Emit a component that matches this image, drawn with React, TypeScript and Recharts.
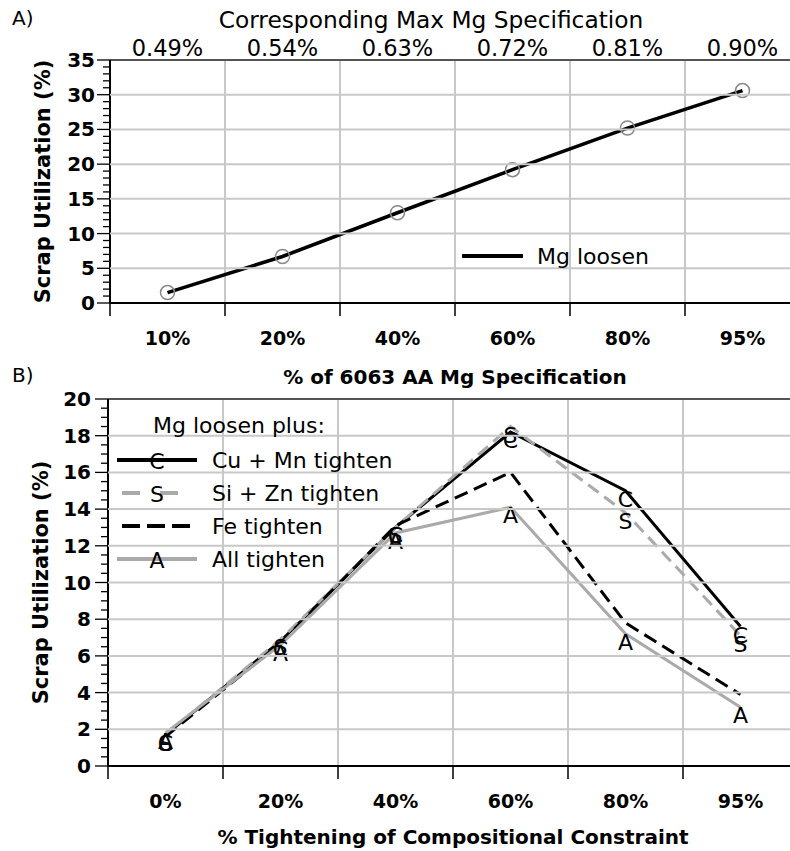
import React from "react";
import { Legend, Line, LineChart, ReferenceLine, XAxis, YAxis } from "recharts";

const FONT = "'DejaVu Sans', sans-serif";

// categories and tick labels
const specLabels = ["10%", "20%", "40%", "60%", "80%", "95%"];
const maxMgLabels = ["0.49%", "0.54%", "0.63%", "0.72%", "0.81%", "0.90%"];
const tightenLabels = ["0%", "20%", "40%", "60%", "80%", "95%"];

// panel A
const mgLoosen = [1.5, 6.7, 13.0, 19.2, 25.2, 30.6];

// panel B
const cuMnTighten = [1.7, 6.8, 13.0, 18.2, 15.0, 7.6];
const siZnTighten = [1.7, 6.9, 13.0, 18.5, 13.8, 7.1];
const feTighten = [1.6, 6.7, 13.1, 16.0, 7.8, 3.9];
const allTighten = [1.8, 6.6, 12.7, 14.1, 7.2, 3.2];

const topYMajor = [0, 5, 10, 15, 20, 25, 30, 35];
const bottomYMajor = [0, 2, 4, 6, 8, 10, 12, 14, 16, 18, 20];

const GRAY = "#aaaaaa";
const GRID = "#c8c8c8";

const CHART_W = 810;
const TOP_MARGIN_R = 10;
const BOT_MARGIN_R = 12;
const TOP_Y_W = 110;
const BOT_Y_W = 108;

const seriesB = [
  { key: "cu", name: "Cu + Mn tighten", color: "#000", dash: undefined, legendDash: undefined, glyph: "C" },
  { key: "si", name: "Si + Zn tighten", color: GRAY, dash: "13 7", legendDash: "18 20", glyph: "S" },
  { key: "fe", name: "Fe tighten", color: "#000", dash: "14 7", legendDash: "18 7", glyph: "" },
  { key: "all", name: "All tighten", color: GRAY, dash: undefined, legendDash: undefined, glyph: "A" },
];

const nCat = specLabels.length;
const xBounds = Array.from({ length: nCat + 1 }, (_, i) => i);
const xCenters = specLabels.map((_, i) => i + 0.5);
const xInner = xBounds.slice(1, -1);
const xAll = [...xBounds, ...xCenters].sort((a, b) => a - b);

function withMinor(max: number, step: number) {
  const out: number[] = [];
  for (let v = 0; v <= max + 1e-9; v += step) out.push(Math.round(v * 100) / 100);
  return out;
}

const topData = specLabels.map((c, i) => ({ x: i + 0.5, mg: mgLoosen[i] }));
const bottomData = tightenLabels.map((c, i) => ({
  x: i + 0.5,
  cu: cuMnTighten[i],
  si: siZnTighten[i],
  fe: feTighten[i],
  all: allTighten[i],
}));

// y tick: outward major/minor tick, label, and the horizontal grid line across the plot
const yTick = (major: number[], labelGap: number, plotW: number) => (p: any) => {
  const { x, y, payload } = p;
  const v = payload.value;
  const isMajor = major.some((m) => Math.abs(m - v) < 1e-6);
  const isEdge = v === major[0] || v === major[major.length - 1];
  return (
    <g>
      {isMajor && !isEdge && <line x1={x} x2={x + plotW} y1={y} y2={y} stroke={GRID} strokeWidth={2} />}
      <line x1={x - (isMajor ? 13 : 7)} x2={x} y1={y} y2={y} stroke="#000" strokeWidth={1.3} />
      {isMajor && (
        <text x={x - labelGap} y={y + 7} textAnchor="end" fontFamily={FONT} fontWeight="bold" fontSize={20} fill="#000">
          {v}
        </text>
      )}
    </g>
  );
};

const catTick = (labels: string[]) => (p: any) => {
  const { x, y, payload } = p;
  const v = payload.value;
  if (Number.isInteger(v)) {
    return <line x1={x} x2={x} y1={y} y2={y + 13} stroke="#000" strokeWidth={1.5} />;
  }
  return (
    <text x={x} y={y + 42} textAnchor="middle" fontFamily={FONT} fontWeight="bold" fontSize={19} fill="#000">
      {labels[Math.floor(v)]}
    </text>
  );
};

const topTick = (p: any) => {
  const { x, y, payload } = p;
  return (
    <text x={x} y={y - 4} textAnchor="middle" fontFamily={FONT} fontSize={22.5} fill="#000">
      {maxMgLabels[Math.floor(payload.value)]}
    </text>
  );
};

const circleDot = (p: any) => (
  <circle key={`c-${p.index}`} cx={p.cx} cy={p.cy} r={7} fill="none" stroke="#888" strokeWidth={1.5} />
);

const glyphDot = (ch: string) => (p: any) =>
  ch ? (
    <text key={`${ch}-${p.index}`} x={p.cx} y={p.cy + 16} textAnchor="middle" fontFamily={FONT} fontSize={22} fill="#000">
      {ch}
    </text>
  ) : (
    <g key={`n-${p.index}`} />
  );

const yTitle = {
  value: "Scrap Utilization (%)",
  angle: -90,
  position: "insideLeft" as const,
  offset: 43,
  style: { textAnchor: "middle" },
  fontFamily: FONT,
  fontWeight: "bold",
  fontSize: 21,
  fill: "#000",
};

function TopLegend({ payload }: any) {
  const name = payload && payload[0] ? payload[0].value : "Mg loosen";
  return (
    <svg width={220} height={36}>
      <line x1={7} x2={68} y1={18} y2={18} stroke="#000" strokeWidth={4} />
      <text x={82} y={26} fontFamily={FONT} fontSize={22} fill="#000">
        {name}
      </text>
    </svg>
  );
}

function BottomLegend() {
  return (
    <svg width={300} height={175}>
      <text x={43} y={23} fontFamily={FONT} fontSize={22} fill="#000">
        Mg loosen plus:
      </text>
      {seriesB.map((s, i) => {
        const cy = 50 + i * 33;
        return (
          <g key={s.key}>
            <line
              x1={s.legendDash ? 12 : 7}
              x2={87}
              y1={cy}
              y2={cy}
              stroke={s.color}
              strokeWidth={4}
              strokeDasharray={s.legendDash}
            />
            {s.glyph && (
              <text x={47} y={cy + 9} textAnchor="middle" fontFamily={FONT} fontSize={22} fill="#000">
                {s.glyph}
              </text>
            )}
            <text x={102} y={cy + 8} fontFamily={FONT} fontSize={22} fill="#000">
              {s.name}
            </text>
          </g>
        );
      })}
    </svg>
  );
}

const vGrid = () =>
  xInner.map((v) => <ReferenceLine key={`gx${v}`} xAxisId="bottom" x={v} stroke={GRID} strokeWidth={2} />);

export default function App() {
  return (
    <div style={{ position: "fixed", left: 0, top: 0, width: 790, height: 851, overflow: "hidden", background: "#fff" }}>
      <div style={{ position: "absolute", left: 12, top: 6, fontFamily: FONT, fontSize: 20 }}>A)</div>
      <div style={{ position: "absolute", left: 12, top: 363, fontFamily: FONT, fontSize: 20 }}>B)</div>

      <div style={{ position: "absolute", left: 0, top: 0 }}>
        <LineChart width={CHART_W} height={400} data={topData} margin={{ top: 0, right: TOP_MARGIN_R, bottom: 0, left: 0 }}>
          {vGrid()}
          <XAxis
            xAxisId="top"
            orientation="top"
            type="number"
            dataKey="x"
            domain={[0, nCat]}
            ticks={xCenters}
            interval={0}
            height={60}
            tickLine={false}
            tickSize={0}
            tickMargin={0}
            axisLine={{ stroke: "#555", strokeWidth: 2 }}
            tick={topTick}
            label={{
              value: "Corresponding Max Mg Specification",
              position: "insideTop",
              offset: 11,
              dx: -24,
              fontFamily: FONT,
              fontSize: 23.3,
              fill: "#000",
            }}
          />
          <XAxis
            xAxisId="bottom"
            type="number"
            dataKey="x"
            domain={[0, nCat]}
            ticks={xAll}
            interval={0}
            height={97}
            tickLine={false}
            tickSize={0}
            tickMargin={0}
            axisLine={{ stroke: "#000", strokeWidth: 2 }}
            tick={catTick(specLabels)}
            label={{
              value: "% of 6063 AA Mg Specification",
              position: "insideBottom",
              offset: 16,
              fontFamily: FONT,
              fontWeight: "bold",
              fontSize: 20,
              fill: "#000",
            }}
          />
          <YAxis
            type="number"
            domain={[0, 35]}
            ticks={withMinor(35, 1)}
            interval={0}
            width={TOP_Y_W}
            tickLine={false}
            tickSize={0}
            tickMargin={0}
            axisLine={{ stroke: "#000", strokeWidth: 2 }}
            tick={yTick(topYMajor, 15, CHART_W - TOP_Y_W - TOP_MARGIN_R)}
            label={yTitle}
          />
          <Line
            xAxisId="bottom"
            dataKey="mg"
            name="Mg loosen"
            stroke="#000"
            strokeWidth={3.5}
            dot={circleDot}
            activeDot={false}
            isAnimationActive={false}
          />
          <Legend
            layout="vertical"
            align="center"
            verticalAlign="middle"
            wrapperStyle={{ position: "absolute", left: 455, top: 238, width: 220, height: 36 }}
            content={TopLegend}
          />
        </LineChart>
      </div>

      <div style={{ position: "absolute", left: 0, top: 360 }}>
        <LineChart width={CHART_W} height={491} data={bottomData} margin={{ top: 0, right: BOT_MARGIN_R, bottom: 0, left: 0 }}>
          {vGrid()}
          <XAxis
            xAxisId="top"
            orientation="top"
            type="number"
            dataKey="x"
            domain={[0, nCat]}
            height={39}
            tick={false}
            tickLine={false}
            axisLine={{ stroke: "#555", strokeWidth: 2 }}
          />
          <XAxis
            xAxisId="bottom"
            type="number"
            dataKey="x"
            domain={[0, nCat]}
            ticks={xAll}
            interval={0}
            height={85}
            tickLine={false}
            tickSize={0}
            tickMargin={0}
            axisLine={{ stroke: "#000", strokeWidth: 2 }}
            tick={catTick(tightenLabels)}
            label={{
              value: "% Tightening of Compositional Constraint",
              position: "insideBottom",
              offset: 7,
              fontFamily: FONT,
              fontWeight: "bold",
              fontSize: 20,
              fill: "#000",
            }}
          />
          <YAxis
            type="number"
            domain={[0, 20]}
            ticks={withMinor(20, 0.5)}
            interval={0}
            width={BOT_Y_W}
            tickLine={false}
            tickSize={0}
            tickMargin={0}
            axisLine={{ stroke: "#000", strokeWidth: 2 }}
            tick={yTick(bottomYMajor, 17, CHART_W - BOT_Y_W - BOT_MARGIN_R)}
            label={{ ...yTitle, offset: 41 }}
          />
          {seriesB.map((s) => (
            <Line
              key={s.key}
              xAxisId="bottom"
              dataKey={s.key}
              name={s.name}
              stroke={s.color}
              strokeWidth={3}
              strokeDasharray={s.dash}
              dot={glyphDot(s.glyph)}
              activeDot={false}
              isAnimationActive={false}
            />
          ))}
          <Legend
            layout="vertical"
            align="center"
            verticalAlign="middle"
            wrapperStyle={{ position: "absolute", left: 110, top: 50, width: 300, height: 175 }}
            content={BottomLegend}
          />
        </LineChart>
      </div>
    </div>
  );
}
